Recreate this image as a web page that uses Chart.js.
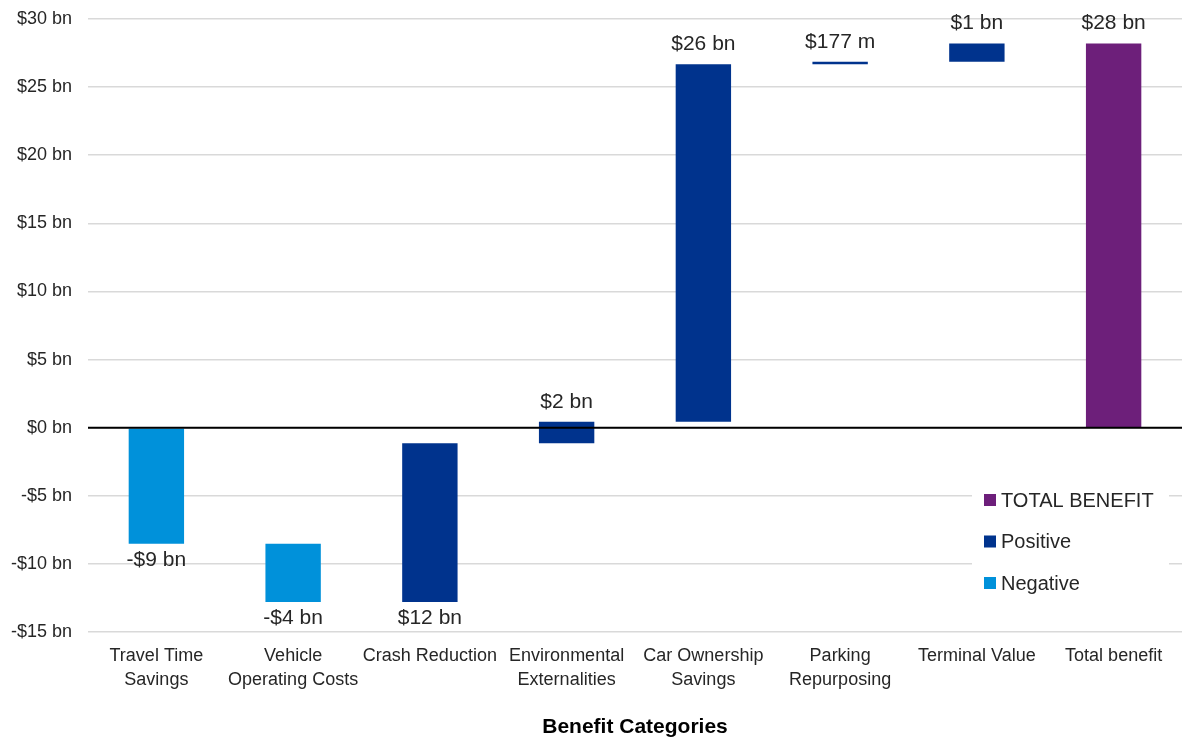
<!DOCTYPE html>
<html>
<head>
<meta charset="utf-8">
<script src="https://cdn.jsdelivr.net/npm/chart.js@4"></script>
<style>
  html, body { margin: 0; padding: 0; background: #fff; }
  #wrap { width: 1182px; height: 740px; position: relative; }
</style>
</head>
<body>
<div id="wrap"><canvas id="benefitChart"></canvas></div>
<script>
// ─── Data ──────────────────────────
const categories = [
    ['Travel Time', 'Savings'],
    ['Vehicle', 'Operating Costs'],
    'Crash Reduction',
    ['Environmental', 'Externalities'],
    ['Car Ownership', 'Savings'],
    ['Parking', 'Repurposing'],
    'Terminal Value',
    'Total benefit'
];
// change in $ bn for each step of the waterfall
const changes = [-8.52, -4.28, 11.66, 1.57, 26.25, 0.177, 1.34];
const yTicks = [-15, -10, -5, 0, 5, 10, 15, 20, 25, 30];

const colors = {
    total: '#6d1f7a',
    positive: '#00338d',
    negative: '#0091da'
};
const textColor = '#262626';
const fontFamily = "'Liberation Sans', Arial, sans-serif";

// running totals -> floating bars
const negativeBars = [];
const positiveBars = [];
const totalBars = [];
let running = 0;
changes.forEach(c => {
    const start = running;
    running += c;
    if (c < 0) { negativeBars.push([start, running]); positiveBars.push(null); }
    else { positiveBars.push([start, running]); negativeBars.push(null); }
    totalBars.push(null);
});
negativeBars.push(null);
positiveBars.push(null);
totalBars.push([0, running]);

function fmtLabel(v) {
    const sign = v < 0 ? '-' : '';
    const a = Math.abs(v);
    if (a < 1) return sign + '$' + Math.round(a * 1000) + ' m';
    return sign + '$' + Math.round(a) + ' bn';
}

// value labels, zero line and in-plot legend
const waterfallExtras = {
    id: 'waterfallExtras',
    afterDatasetsDraw(chart) {
        const { ctx, chartArea, scales } = chart;

        // zero line sits over the bars
        const y0 = scales.y.getPixelForValue(0);
        ctx.save();
        ctx.strokeStyle = '#000';
        ctx.lineWidth = 2;
        ctx.beginPath();
        ctx.moveTo(chartArea.left, y0);
        ctx.lineTo(chartArea.right, y0);
        ctx.stroke();

        // value labels: below bars that stay under zero, above the rest
        ctx.font = '21px ' + fontFamily;
        ctx.fillStyle = textColor;
        ctx.textAlign = 'center';
        ctx.textBaseline = 'middle';
        chart.data.datasets.forEach((ds, di) => {
            const meta = chart.getDatasetMeta(di);
            meta.data.forEach((bar, i) => {
                const v = ds.data[i];
                if (!v) return;
                const top = Math.min(bar.y, bar.base);
                const bottom = Math.max(bar.y, bar.base);
                const text = fmtLabel(v[1] - v[0]);
                if (Math.max(v[0], v[1]) <= 0) ctx.fillText(text, bar.x, bottom + 16);
                else ctx.fillText(text, bar.x, top - 20);
            });
        });

        // legend box
        const lx = chartArea.right - 210;
        const ly = chartArea.top + 459;
        ctx.fillStyle = '#fff';
        ctx.fillRect(lx, ly, 197, 128);
        ctx.textAlign = 'left';
        ctx.font = '20px ' + fontFamily;
        chart.data.datasets.forEach((ds, di) => {
            const cy = ly + 22 + di * 41.5;
            ctx.fillStyle = ds.backgroundColor;
            ctx.fillRect(lx + 12, cy - 6, 12, 12);
            ctx.fillStyle = textColor;
            ctx.fillText(ds.label, lx + 29, cy + 1);
        });
        ctx.restore();
    }
};

const ctx = document.getElementById('benefitChart').getContext('2d');

new Chart(ctx, {
    type: 'bar',
    data: {
        labels: categories,
        datasets: [
            { label: 'TOTAL BENEFIT', data: totalBars, backgroundColor: colors.total },
            { label: 'Positive', data: positiveBars, backgroundColor: colors.positive },
            { label: 'Negative', data: negativeBars, backgroundColor: colors.negative }
        ]
    },
    options: {
        responsive: true,
        maintainAspectRatio: false,
        animation: false,
        layout: { padding: { top: 19, right: 0, bottom: 0, left: 0 } },
        datasets: {
            bar: {
                grouped: false,
                categoryPercentage: 1,
                barPercentage: 0.405,
                borderSkipped: false
            }
        },
        plugins: {
            legend: { display: false },
            tooltip: { enabled: false }
        },
        scales: {
            x: {
                grid: { display: false, drawTicks: false },
                border: { display: false },
                ticks: {
                    color: textColor,
                    font: { size: 18, family: fontFamily, lineHeight: 1.28 },
                    padding: 13,
                    maxRotation: 0,
                    autoSkip: false
                },
                title: {
                    display: true,
                    text: 'Benefit Categories',
                    color: '#000',
                    font: { size: 21, weight: 'bold', family: fontFamily },
                    padding: { top: 0, bottom: 0 }
                },
                afterFit(scale) { scale.height = 108; }
            },
            y: {
                min: -15,
                max: 30,
                afterBuildTicks(scale) { scale.ticks = yTicks.map(v => ({ value: v })); },
                grid: { color: '#d9d9d9', lineWidth: 1.5, drawTicks: false },
                border: { display: false },
                ticks: {
                    color: textColor,
                    font: { size: 18, family: fontFamily },
                    padding: 16,
                    callback: v => (v < 0 ? '-$' + (-v) : '$' + v) + ' bn'
                },
                afterFit(scale) {
                    scale.width = 88;
                    scale.paddingTop = 0;
                    scale.paddingBottom = 0;
                }
            }
        }
    },
    plugins: [waterfallExtras]
});
</script>
</body>
</html>
